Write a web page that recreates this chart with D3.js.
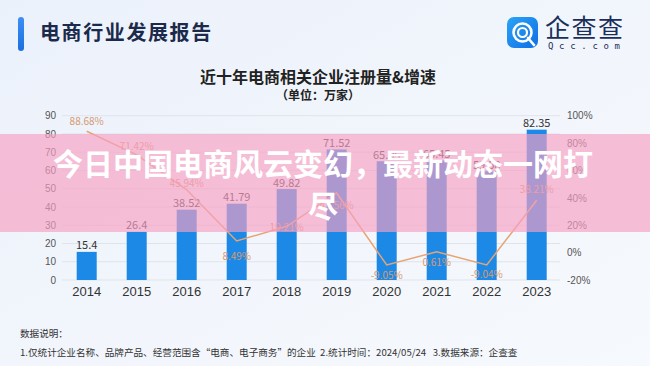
<!DOCTYPE html>
<html>
<head>
<meta charset="utf-8">
<script src="https://cdn.jsdelivr.net/npm/d3@7"></script>
<style>
  html, body { margin: 0; padding: 0; }
  body { width: 650px; height: 366px; overflow: hidden; }
  svg { display: block; font-family: "Noto Sans CJK SC", "Noto Sans", sans-serif; }
</style>
</head>
<body>
<div id="chart"></div>
<script>
// e-commerce company registrations, 2014-2023 (unit: 10k)
const years = ["2014", "2015", "2016", "2017", "2018", "2019", "2020", "2021", "2022", "2023"];
const registrations = [15.4, 26.4, 38.52, 41.79, 49.82, 71.52, 65.05, 65.45, 59.58, 82.35];
const growthRates = [88.68, 71.42, 45.94, 8.49, 19.21, 43.56, -9.05, 0.61, -9.04, 38.21];
const leftTicks = [0, 10, 20, 30, 40, 50, 60, 70, 80, 90];
const rightTicks = [-20, 0, 20, 40, 60, 80, 100];

const chartTitle = "近十年电商相关企业注册量&增速";
const chartUnit = "（单位：万家）";
const reportTitle = "电商行业发展报告";
const overlayLines = ["今日中国电商风云变幻，最新动态一网打", "尽"];
const noteTitle = "数据说明：";
const noteText = "1.仅统计企业名称、品牌产品、经营范围含“电商、电子商务”的企业  2.统计时间：2024/05/24   3.数据来源：企查查";

function initChart() {
  const width = 650;
  const height = 366;

  const svg = d3.select("#chart")
    .append("svg")
    .attr("width", width)
    .attr("height", height)
    .attr("viewBox", [0, 0, width, height]);

  const defs = svg.append("defs");

  const bg = defs.append("linearGradient")
    .attr("id", "bg-gradient")
    .attr("x1", "0%").attr("y1", "0%")
    .attr("x2", "100%").attr("y2", "100%");
  bg.append("stop").attr("offset", "0%").attr("stop-color", "#ebf1fb");
  bg.append("stop").attr("offset", "55%").attr("stop-color", "#f2f6fc");
  bg.append("stop").attr("offset", "100%").attr("stop-color", "#f6f9fd");

  const accent = defs.append("linearGradient")
    .attr("id", "accent-gradient")
    .attr("x1", "0%").attr("y1", "0%")
    .attr("x2", "0%").attr("y2", "100%");
  accent.append("stop").attr("offset", "0%").attr("stop-color", "#3d8ff5");
  accent.append("stop").attr("offset", "100%").attr("stop-color", "#1a6fe0");

  const logoGrad = defs.append("linearGradient")
    .attr("id", "logo-gradient")
    .attr("x1", "0%").attr("y1", "0%")
    .attr("x2", "100%").attr("y2", "100%");
  logoGrad.append("stop").attr("offset", "0%").attr("stop-color", "#2aa3f5");
  logoGrad.append("stop").attr("offset", "100%").attr("stop-color", "#0f6fe6");

  svg.append("rect")
    .attr("width", width)
    .attr("height", height)
    .attr("fill", "url(#bg-gradient)");

  // header
  svg.append("rect")
    .attr("x", 18).attr("y", 17)
    .attr("width", 6).attr("height", 34)
    .attr("rx", 3)
    .attr("fill", "url(#accent-gradient)");

  svg.append("text")
    .attr("x", 40).attr("y", 40)
    .attr("font-size", 20)
    .attr("font-weight", 700)
    .attr("letter-spacing", 1.6)
    .attr("fill", "#1b2a4a")
    .text(reportTitle);

  const logo = svg.append("g").attr("transform", "translate(507,17)");
  logo.append("rect")
    .attr("width", 31).attr("height", 31)
    .attr("rx", 7)
    .attr("fill", "url(#logo-gradient)");
  logo.append("circle")
    .attr("cx", 15.5).attr("cy", 15.5).attr("r", 9)
    .attr("fill", "none").attr("stroke", "#fff").attr("stroke-width", 2.6);
  logo.append("circle")
    .attr("cx", 15.5).attr("cy", 15.5).attr("r", 4.5)
    .attr("fill", "none").attr("stroke", "#fff").attr("stroke-width", 2.2);
  logo.append("line")
    .attr("x1", 21).attr("y1", 21).attr("x2", 27).attr("y2", 28)
    .attr("stroke", "#fff").attr("stroke-width", 2.6).attr("stroke-linecap", "round");
  logo.append("text")
    .attr("x", 38).attr("y", 20)
    .attr("font-size", 25)
    .attr("fill", "#1a2f5a")
    .attr("textLength", 78)
    .text("企查查");
  logo.append("text")
    .attr("x", 41).attr("y", 32)
    .attr("font-size", 9)
    .attr("font-family", "DejaVu Sans Mono, monospace")
    .attr("fill", "#1a2f5a")
    .attr("textLength", 72)
    .text("Qcc.com");

  // titles
  svg.append("text")
    .attr("x", 318).attr("y", 83)
    .attr("text-anchor", "middle")
    .attr("font-size", 16)
    .attr("font-weight", 700)
    .attr("fill", "#222")
    .text(chartTitle);

  svg.append("text")
    .attr("x", 318).attr("y", 100)
    .attr("text-anchor", "middle")
    .attr("font-size", 12)
    .attr("font-weight", 700)
    .attr("fill", "#222")
    .text(chartUnit);

  // scales
  const x = d3.scaleBand()
    .domain(years)
    .range([61.7, 561.7])
    .paddingInner(0.6)
    .paddingOuter(0.3);

  const y = d3.scaleLinear()
    .domain([0, 90])
    .range([280, 115.7]);

  const yRate = d3.scaleLinear()
    .domain([-20, 100])
    .range([280, 115.7]);

  // grid
  svg.append("g")
    .selectAll("line")
    .data(leftTicks)
    .join("line")
    .attr("x1", 62).attr("x2", 560)
    .attr("y1", function(d) { return y(d); })
    .attr("y2", function(d) { return y(d); })
    .attr("stroke", "#dfe4ec")
    .attr("stroke-width", 1);

  // left axis
  const leftAxis = svg.append("g")
    .attr("transform", "translate(56,0)")
    .call(d3.axisLeft(y).tickValues(leftTicks).tickSize(0).tickPadding(0));
  leftAxis.select(".domain").remove();
  leftAxis.selectAll("text")
    .attr("font-size", 10)
    .attr("fill", "#555");

  // right axis
  const rightAxis = svg.append("g")
    .attr("transform", "translate(567,0)")
    .call(d3.axisRight(yRate).tickValues(rightTicks).tickSize(0).tickPadding(0)
      .tickFormat(function(d) { return d + "%"; }));
  rightAxis.select(".domain").remove();
  rightAxis.selectAll("text")
    .attr("font-size", 10)
    .attr("fill", "#555");

  // x axis
  const xAxis = svg.append("g")
    .attr("transform", "translate(0,287)")
    .call(d3.axisBottom(x).tickSize(0).tickPadding(0));
  xAxis.select(".domain").remove();
  xAxis.selectAll("text")
    .attr("font-size", 13)
    .attr("fill", "#333");

  // bars
  svg.append("g")
    .selectAll("rect")
    .data(registrations)
    .join("rect")
    .attr("x", function(d, i) { return x(years[i]); })
    .attr("y", function(d) { return y(d); })
    .attr("width", x.bandwidth())
    .attr("height", function(d) { return y(0) - y(d); })
    .attr("fill", "#1c89e6");

  svg.append("g")
    .selectAll("text")
    .data(registrations)
    .join("text")
    .attr("x", function(d, i) { return x(years[i]) + x.bandwidth() / 2; })
    .attr("y", function(d) { return y(d) - 2.5; })
    .attr("text-anchor", "middle")
    .attr("font-size", 11)
    .attr("fill", "#333")
    .text(function(d) { return d; });

  // growth line
  const cx = function(i) { return x(years[i]) + x.bandwidth() / 2; };
  const line = d3.line()
    .x(function(d, i) { return cx(i); })
    .y(function(d) { return yRate(d); });

  svg.append("path")
    .datum(growthRates)
    .attr("d", line)
    .attr("fill", "none")
    .attr("stroke", "#e6a473")
    .attr("stroke-width", 1.5);

  // label offsets: above the line where it falls, below at the dips
  const labelDy = [-6, -5, -3, 19, 5, 16, 14, 14, 13, -7];
  svg.append("g")
    .selectAll("text")
    .data(growthRates)
    .join("text")
    .attr("x", function(d, i) { return cx(i); })
    .attr("y", function(d, i) { return yRate(d) + labelDy[i]; })
    .attr("text-anchor", "middle")
    .attr("font-size", 10)
    .attr("fill", "#d69a70")
    .text(function(d) { return d.toFixed(2) + "%"; });

  // overlay banner
  svg.append("rect")
    .attr("x", 0).attr("y", 134)
    .attr("width", width).attr("height", 98)
    .attr("fill", "rgb(247,160,195)")
    .attr("fill-opacity", 0.66);

  svg.append("g")
    .selectAll("text")
    .data(overlayLines)
    .join("text")
    .attr("x", 323)
    .attr("y", function(d, i) { return 175 + i * 42; })
    .attr("text-anchor", "middle")
    .attr("font-size", 30)
    .attr("font-weight", 700)
    .attr("fill", "#fff")
    .text(function(d) { return d; });

  // notes
  svg.append("text")
    .attr("x", 20).attr("y", 337)
    .attr("font-size", 9.6)
    .attr("fill", "#333")
    .text(noteTitle);

  svg.append("text")
    .attr("x", 20).attr("y", 356)
    .attr("font-size", 9.6)
    .attr("fill", "#333")
    .style("white-space", "pre")
    .text(noteText);
}

if (document.readyState === "loading") {
  document.addEventListener("DOMContentLoaded", initChart);
} else {
  initChart();
}
</script>
</body>
</html>
